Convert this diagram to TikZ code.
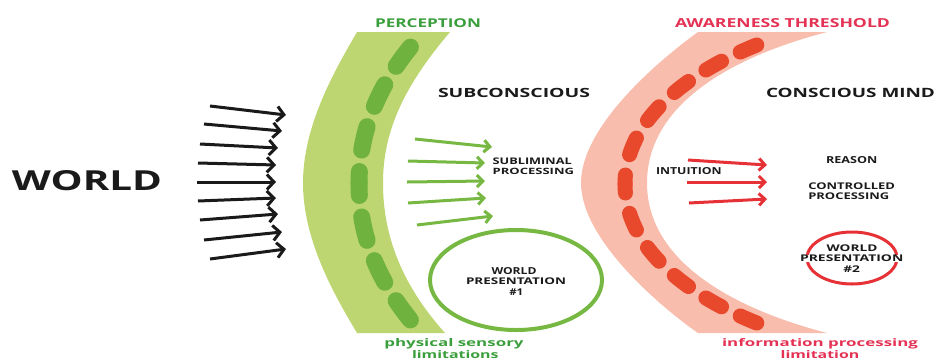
\documentclass[tikz,border=0pt]{standalone}
\usepackage{fontspec}
\setmainfont{Open Sans}
\usepackage{graphicx}
\usetikzlibrary{arrows.meta,shapes.geometric}
\definecolor{gband}{RGB}{190,214,114}
\definecolor{gdash}{RGB}{111,178,62}
\definecolor{garrow}{RGB}{118,184,66}
\definecolor{gtext}{RGB}{58,158,60}
\definecolor{rband}{RGB}{248,189,172}
\definecolor{rdash}{RGB}{232,72,44}
\definecolor{rarrow}{RGB}{230,50,55}
\definecolor{rtext}{RGB}{228,50,85}
\definecolor{ink}{RGB}{26,26,26}
\newcommand{\fitt}[3]{\resizebox{#1pt}{#2pt}{#3}}
\begin{document}
\begin{tikzpicture}[x=1pt,y=-1pt,
  txt/.style={inner sep=0pt,outer sep=0pt,font=\bfseries,text=ink,anchor=base west},
  ctxt/.style={txt,anchor=base},
  blackarrow/.style={draw=ink,line width=3pt,-{Straight Barb[length=7pt,width=15pt]}},
  greenarrow/.style={draw=garrow,line width=3pt,-{Straight Barb[length=6pt,width=12pt]}},
  redarrow/.style={draw=rarrow,line width=3pt,-{Straight Barb[length=6pt,width=12pt]}},
  gdashes/.style={draw=gdash,line width=17pt,line cap=round,dash pattern=on 24pt off 21.6pt,dash phase=12pt},
  rdashes/.style={draw=rdash,line width=15pt,line cap=round,dash pattern=on 18pt off 20.8pt,dash phase=9pt}]
\useasboundingbox (0,0) rectangle (938,360);

% green band
\fill[gband] (357,32) .. controls (335,70) and (303,125) .. (303,183)
  .. controls (303,241) and (335,296) .. (357,333) -- (445,333)
  .. controls (402,285) and (383,236) .. (383,183)
  .. controls (383,130) and (405,85) .. (450,32) -- cycle;
% green dashes
\draw[gdashes] (359,183.5) .. controls (359,131) and (378,84) .. (418,38);
\draw[gdashes] (359,183.5) .. controls (359,236) and (378,283) .. (418,329);

% red band
\fill[rband] (698,32) .. controls (662,58) and (581,125) .. (581,183)
  .. controls (581,240) and (662,308) .. (698,333) -- (827,333)
  .. controls (720,305) and (647,255) .. (647,183)
  .. controls (647,110) and (720,60) .. (827,32) -- cycle;
% red dashes
\draw[rdashes] (625,184) .. controls (625,114) and (700,65) .. (770,40);
\draw[rdashes] (625,184) .. controls (625,254) and (700,303) .. (770,328);

% black arrows
\foreach \i/\xa/\ya/\xb/\yb in {1/210/106/286/115, 2/204/124/282/131, 3/200/144/278/148,
  4/198/163/276/165, 5/197/182/276/182, 6/198/201/276/198, 7/200/220/278/214,
  8/204/240/282/232, 9/210/259/286/249}{
  \coordinate (bs\i) at (\xa,\ya);
  \coordinate (be\i) at (\xb,\yb);
  \draw[blackarrow] (bs\i) -- (be\i);
}
% green arrows
\foreach \i/\xa/\ya/\xb/\yb in {1/415/139/492/147, 2/408/161/485/163, 3/407/182/485/181,
  4/408/203/486/198, 5/417/225/493/216}{
  \coordinate (gs\i) at (\xa,\ya);
  \coordinate (ge\i) at (\xb,\yb);
  \draw[greenarrow] (gs\i) -- (ge\i);
}
% red arrows
\foreach \i/\xa/\ya/\xb/\yb in {1/688/160/767/165, 2/687/182/767/182, 3/689/203/767/199}{
  \coordinate (rs\i) at (\xa,\ya);
  \coordinate (re\i) at (\xb,\yb);
  \draw[redarrow] (rs\i) -- (re\i);
}

% ellipses
\node[draw=garrow,line width=4pt,ellipse,minimum width=172pt,minimum height=100pt,inner sep=0pt] (wp1) at (516,280) {};
\node[draw=rarrow,line width=3pt,ellipse,minimum width=90pt,minimum height=52pt,inner sep=0pt] (wp2) at (852,258) {};

% texts
\node[txt] (world) at (12,190) {\fitt{150}{20}{WORLD}};
\node[txt,text=gtext] (perc) at (375,27.3) {\fitt{106}{8.8}{PERCEPTION}};
\node[txt,text=rtext] (aware) at (675,27.3) {\fitt{215}{9}{AWARENESS THRESHOLD}};
\node[txt] (subc) at (438,97.3) {\fitt{152}{9.2}{SUBCONSCIOUS}};
\node[txt] (consc) at (766,97) {\fitt{169}{9.3}{CONSCIOUS MIND}};
\node[txt] (subl1) at (492.7,164.3) {\fitt{79}{6.6}{SUBLIMINAL}};
\node[txt] (subl2) at (492.7,174.3) {\fitt{81.3}{6.3}{PROCESSING}};
\node[txt] (intu) at (656,174.3) {\fitt{65.7}{7}{INTUITION}};
\node[txt] (reason) at (826,163.3) {\fitt{51.3}{7}{REASON}};
\node[txt] (ctrl1) at (808.3,189.3) {\fitt{86.7}{6.7}{CONTROLLED}};
\node[txt] (ctrl2) at (808.3,199.3) {\fitt{81}{6.7}{PROCESSING}};
\node[ctxt] (wpa1) at (514,274) {\fitt{45}{7}{WORLD}};
\node[ctxt] (wpa2) at (516,284) {\fitt{100}{6.7}{PRESENTATION}};
\node[ctxt] (wpa3) at (516.3,295) {\fitt{14}{6.7}{\#1}};
\node[ctxt] (wpb1) at (852,251) {\fitt{50.7}{6.7}{WORLD}};
\node[ctxt,fill=white,inner xsep=1pt,inner ysep=0.5pt] (wpb2) at (851.7,261.7) {\fitt{103.3}{6.7}{PRESENTATION}};
\node[ctxt] (wpb3) at (851.7,272.7) {\fitt{16.7}{6.7}{\#2}};
\node[txt,text=gtext] (phys1) at (384.3,346.5) {\fitt{139.3}{8}{physical sensory}};
\node[txt,text=gtext] (phys2) at (412,358.5) {\fitt{86.6}{8}{limitations}};
\node[txt,text=rtext] (info1) at (722,346.5) {\fitt{196}{8}{information processing}};
\node[txt,text=rtext] (info2) at (780.7,358.5) {\fitt{78.6}{8}{limitation}};
\end{tikzpicture}
\end{document}
